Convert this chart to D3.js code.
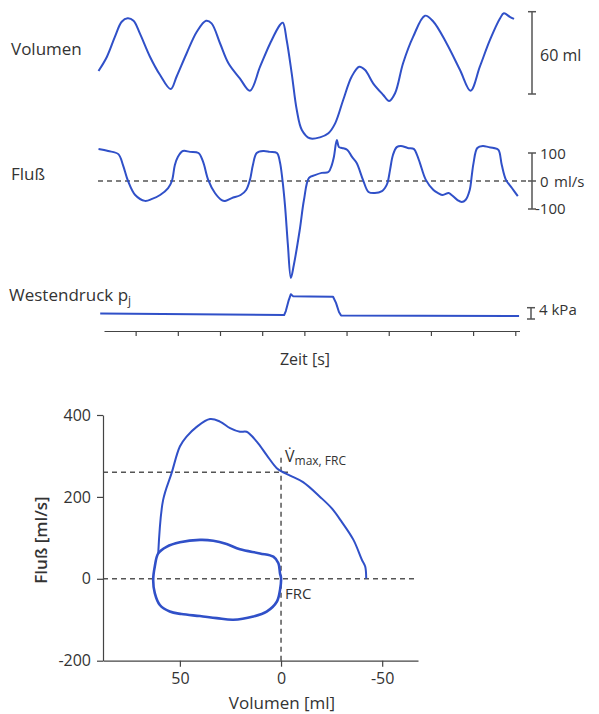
<!DOCTYPE html>
<html>
<head>
<meta charset="utf-8">
<script src="https://cdn.jsdelivr.net/npm/d3@7"></script>
<style>
  body { margin: 0; background: #fff; }
  svg { display: block; }
  text { font-family: "Open Sans", "Noto Sans", sans-serif; fill: #333; }
  .axis path, .axis line { stroke: #444; stroke-width: 1.2; }
  .axis text { font-size: 16px; fill: #333; font-family: "Open Sans", sans-serif; }
</style>
</head>
<body>
<div id="chart"></div>
<script>
// time traces (t in s)
var volTime  = [0.12,0.32,0.51,0.67,0.81,0.95,1.10,1.34,1.58,1.83,1.97,2.21,2.45,2.67,2.80,3.00,3.20,3.47,3.71,3.95,4.19,4.42,4.49,4.58,4.70,4.82,4.94,5.13,5.37,5.57,5.73,5.92,6.12,6.30,6.44,6.63,6.87,7.01,7.15,7.34,7.58,7.86,8.06,8.37,8.69,8.94,9.16,9.40,9.64,9.73,9.87,9.97];
var volValue = [16.8,27.2,41.8,52.7,55.2,53.4,44.2,27.2,13.8,3.6,12.6,29.7,45.4,53.4,51.5,37.0,22.4,11.4,2.4,19.9,37.0,50.3,52.0,39.4,15.1,-11.7,-26.2,-32.3,-31.6,-28.6,-21.4,-4.4,12.6,19.9,17.5,7.8,-0.7,-5.1,0.5,22.4,41.8,57.1,52.7,37.0,17.5,2.4,19.9,39.4,55.2,58.8,56.3,54.7];

var flowTime  = [0.12,0.35,0.59,0.70,0.82,0.99,1.22,1.39,1.58,1.77,1.86,1.93,2.00,2.12,2.29,2.49,2.60,2.72,2.88,3.04,3.12,3.28,3.49,3.62,3.71,3.78,3.87,4.03,4.18,4.35,4.42,4.48,4.54,4.61,4.68,4.75,4.89,4.99,5.11,5.25,5.41,5.57,5.65,5.70,5.77,5.82,5.89,6.02,6.13,6.24,6.39,6.52,6.67,6.84,6.91,6.97,7.03,7.10,7.19,7.29,7.45,7.60,7.67,7.74,7.88,8.06,8.17,8.28,8.42,8.49,8.63,8.73,8.82,8.92,8.97,9.01,9.10,9.23,9.37,9.49,9.60,9.68,9.78,9.92,10.06];
var flowValue = [114,107,96,57,0,-50,-71,-64,-50,-25,0,57,86,107,104,100,68,4,-43,-68,-71,-61,-50,-32,4,57,100,107,104,100,68,4,-86,-229,-346,-300,-175,-68,11,21,29,32,57,86,146,121,118,111,86,64,4,-39,-43,-36,-25,-7,39,93,121,125,118,114,93,64,4,-32,-43,-50,-43,-50,-68,-75,-68,-32,21,64,118,125,121,118,111,57,4,-25,-54];

var pressTime  = [0.16,4.52,4.56,4.63,4.68,4.73,5.13,5.68,5.75,5.82,5.87,7.74,10.09];
var pressValue = [0.35,-0.2,1.2,5.1,7.2,6.5,6.4,6.3,4.1,0.9,-0.35,-0.4,-0.5];

var timeTicks = [1,2,3,4,5,6,7,8,9,10];

// flow-volume loops (volume in ml, flow in ml/s)
var loopVol  = [60.7,56.6,50.0,40.1,33.5,26.9,20.3,10.4,3.8,1.3,0.5,0.0,0.5,2.1,7.1,13.7,23.6,31.8,40.1,49.2,55.0,59.9,62.4,63.2,62.4];
var loopFlow = [62,78,89,95,93,85,72,62,54,38,13,2,-27,-56,-80,-92,-100,-96,-91,-86,-80,-64,-35,-3,30];

var forcedVol  = [60.7,58.3,54.1,50.0,46.7,41.7,35.1,30.2,25.2,20.3,17.0,12.0,7.1,2.1,0.0,-4.5,-10.9,-19.3,-25.1,-30.0,-35.8,-40.0,-41.6,-42.1];
var forcedFlow = [62,192,258,323,347,371,390,384,368,359,359,335,302,270,263,252,236,200,172,139,95,46,30,1];

var volTicks  = [50, 0, -50];
var flowTicks = [-200, 0, 200, 400];

var blue = '#3050c8';
var W = 599, H = 714;

var svg = d3.select('#chart').append('svg')
    .attr('width', W)
    .attr('height', H);

// ---------- top: time traces ----------
var x = d3.scaleLinear().domain([0.25, 10.1]).range([104, 519.5]);
var yVol = d3.scaleLinear().domain([0, 60]).range([94, 11.7]);
var yFlow = d3.scaleLinear().domain([-100, 100]).range([209, 153]);
var yPress = d3.scaleLinear().domain([0, 4]).range([314.5, 303.2]);

function trace(ts, vs, ys, curve) {
    var pts = ts.map(function(t, i){ return [t, vs[i]]; });
    svg.append('path')
        .datum(pts)
        .attr('fill', 'none')
        .attr('stroke', blue)
        .attr('stroke-width', 2)
        .attr('stroke-linejoin', 'round')
        .attr('d', d3.line()
            .x(function(d){ return x(d[0]); })
            .y(function(d){ return ys(d[1]); })
            .curve(curve));
}

// zero line of flow
svg.append('line')
    .attr('x1', 98).attr('x2', 530)
    .attr('y1', yFlow(0)).attr('y2', yFlow(0))
    .attr('stroke', '#555').attr('stroke-width', 1.5)
    .attr('stroke-dasharray', '5,4');

trace(volTime, volValue, yVol, d3.curveCatmullRom);
trace(flowTime, flowValue, yFlow, d3.curveCatmullRom);
trace(pressTime, pressValue, yPress, d3.curveLinear);

// scale bars
function bar(xb, y1, y2, mids) {
    var g = svg.append('g').attr('stroke', '#555').attr('stroke-width', 1.5);
    g.append('line').attr('x1', xb).attr('x2', xb).attr('y1', y1).attr('y2', y2);
    [y1, y2].concat(mids || []).forEach(function(yy){
        g.append('line').attr('x1', xb - 4).attr('x2', xb + 4).attr('y1', yy).attr('y2', yy);
    });
}
bar(532, yVol(60), yVol(0));
bar(532, yFlow(100), yFlow(-100), [yFlow(0)]);
var pb = yPress(0) + 4.5;
bar(531, pb - (yPress(0) - yPress(4)), pb);

// labels of the traces
function label(tx, ty, s, size) {
    return svg.append('text').attr('x', tx).attr('y', ty)
        .style('font-size', (size || 17) + 'px').text(s);
}
label(11, 55, 'Volumen');
label(11, 180, 'Fluß');
var wd = label(9, 301, 'Westendruck p');
wd.append('tspan').attr('dy', 4).style('font-size', '12px').text('j');

label(540, 61, '60 ml', 16);
label(540, 159, '100', 15);
label(540, 187, '0', 15);
label(554, 187, 'ml/s', 15);
label(535, 214, '-100', 15);
label(539, 315, '4 kPa', 15);

// time axis
svg.append('g')
    .attr('class', 'axis')
    .attr('transform', 'translate(0,331)')
    .call(d3.axisBottom(x).tickValues(timeTicks).tickSize(5).tickSizeOuter(0).tickFormat(''));
svg.append('text')
    .attr('x', 305).attr('y', 365)
    .attr('text-anchor', 'middle')
    .style('font-size', '16px')
    .text('Zeit [s]');

// ---------- bottom: flow-volume loop ----------
var xv = d3.scaleLinear().domain([88, -67.7]).range([103, 418]);
var yf = d3.scaleLinear().domain([-200, 400]).range([660.7, 415]);
var plain = function(d){ return String(d); };

// dashed guides
var guides = svg.append('g')
    .attr('stroke', '#555').attr('stroke-width', 1.5)
    .attr('stroke-dasharray', '5,4').attr('fill', 'none');
guides.append('line').attr('x1', xv(88)).attr('x2', xv(-67.7)).attr('y1', yf(0)).attr('y2', yf(0));
guides.append('line').attr('x1', xv(88)).attr('x2', xv(-5)).attr('y1', yf(260)).attr('y2', yf(260));
guides.append('line').attr('x1', xv(0)).attr('x2', xv(0)).attr('y1', yf(-200)).attr('y2', yf(300));

svg.append('g')
    .attr('class', 'axis')
    .attr('transform', 'translate(0,' + yf(-200) + ')')
    .call(d3.axisBottom(xv).tickValues(volTicks).tickSize(6).tickSizeOuter(0).tickPadding(6).tickFormat(plain));
svg.append('g')
    .attr('class', 'axis')
    .attr('transform', 'translate(' + xv(88) + ',0)')
    .call(d3.axisLeft(yf).tickValues(flowTicks).tickSize(6).tickSizeOuter(0).tickPadding(6).tickFormat(plain));

var loopLine = d3.line()
    .x(function(d){ return xv(d[0]); })
    .y(function(d){ return yf(d[1]); });

svg.append('path')
    .datum(loopVol.map(function(v, i){ return [v, loopFlow[i]]; }))
    .attr('fill', 'none').attr('stroke', blue).attr('stroke-width', 2.6)
    .attr('d', loopLine.curve(d3.curveCatmullRomClosed));

svg.append('path')
    .datum(forcedVol.map(function(v, i){ return [v, forcedFlow[i]]; }))
    .attr('fill', 'none').attr('stroke', blue).attr('stroke-width', 2)
    .attr('d', loopLine.curve(d3.curveCatmullRom));

// annotations
var vm = svg.append('text').attr('x', 285).attr('y', 462).style('font-size', '16px').text('V\u0307');
vm.append('tspan').attr('dy', 3).style('font-size', '12px').text('max, FRC');
label(285, 599, 'FRC', 15);

svg.append('text')
    .attr('x', 282).attr('y', 709)
    .attr('text-anchor', 'middle')
    .style('font-size', '17px')
    .text('Volumen [ml]');
svg.append('text')
    .attr('transform', 'translate(47,540) rotate(-90)')
    .attr('text-anchor', 'middle')
    .style('font-size', '17px')
    .style('font-weight', 600)
    .text('Fluß [ml/s]');
</script>
</body>
</html>
